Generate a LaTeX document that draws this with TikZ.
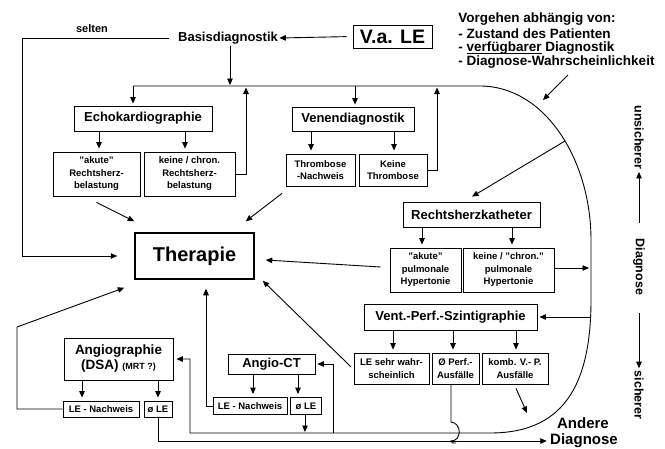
\documentclass[tikz,border=0pt]{standalone}
\usepackage{fontspec}
\setmainfont{Liberation Sans}
\usetikzlibrary{arrows.meta,calc}
\newcommand\myul[1]{\setbox0\hbox{#1}\rlap{\rule[-2.3pt]{\wd0}{0.9pt}}\box0\relax}
\begin{document}
\begin{tikzpicture}[x=1pt,y=-1pt,
  line width=0.9pt,
  arr/.style={-{Triangle[length=6.5pt,width=5.5pt]}},
  bx/.style n args={2}{draw, line width=0.8pt, fill=white, align=center, inner sep=0pt, minimum width=#1pt, minimum height=#2pt},
  ttl/.style={font=\fontsize{13}{15}\selectfont\bfseries},
  sml/.style={font=\fontsize{9.5}{12.5}\selectfont\bfseries},
  lbl/.style={inner sep=1pt},
  vg/.style={lbl, anchor=west, font=\fontsize{13.5}{15}\selectfont\bfseries},
]
\useasboundingbox (0,0) rectangle (665,448);

% ---------- nodes ----------
\node[bx={79}{23}, font=\fontsize{19.5}{22}\selectfont\bfseries] (vale) at (392.5,36.5) {V.a. LE};
\node[lbl, ttl] (basis) at (228,38) {Basisdiagnostik};
\node[lbl, font=\fontsize{11}{13}\selectfont\bfseries] (selten) at (92,29) {selten};
\node[vg] (vg1) at (457,19) {Vorgehen abhängig von:};
\node[vg] (vg2) at (457,33.5) {- Zustand des Patienten};
\node[vg] (vg3) at (457,48) {- \myul{verfügbarer} Diagnostik};
\node[vg] (vg4) at (457,62.5) {- Diagnose-Wahrscheinlichkeit};

\node[bx={138}{25}, ttl] (echo) at (143,118.5) {Echokardiographie};
\node[bx={87}{44}, sml] (ak1) at (96.5,174) {"akute"\\Rechtsherz-\\belastung};
\node[bx={91}{44}, sml] (kc1) at (189.5,174) {keine / chron.\\Rechtsherz-\\belastung};

\node[bx={122}{24}, ttl] (venen) at (353,119) {Venendiagnostik};
\node[bx={69}{32}, sml] (thn) at (320.5,170) {Thrombose\\-Nachweis};
\node[bx={68}{32}, sml] (kth) at (393,170) {Keine\\Thrombose};

\node[bx={119}{46}, line width=1.5pt, font=\fontsize{20}{24}\selectfont\bfseries] (therapie) at (194.5,256) {Therapie};

\node[bx={137}{25}, ttl] (rhk) at (471.5,214.5) {Rechtsherzkatheter};
\node[bx={71}{44}, sml] (aph) at (425.5,270) {"akute"\\pulmonale\\Hypertonie};
\node[bx={91}{44}, sml] (kph) at (508.5,270) {keine / "chron."\\pulmonale\\Hypertonie};

\node[bx={173}{26}, ttl] (vps) at (450.5,317) {Vent.-Perf.-Szintigraphie};
\node[bx={75}{31}, sml] (lesw) at (391.5,368.5) {LE sehr wahr-\\scheinlich};
\node[bx={47}{31}, sml] (perf) at (455.5,368.5) {Ø Perf.-\\Ausfälle};
\node[bx={66}{31}, sml] (komb) at (515,368.5) {komb. V.- P.\\Ausfälle};

\node[bx={87}{20}, ttl] (angioct) at (271.5,364) {Angio-CT};
\node[bx={74}{17}, sml] (ctle) at (250,406) {LE - Nachweis};
\node[bx={31}{17}, sml] (ctnole) at (306,406) {ø LE};

\node[bx={109}{42}, font=\fontsize{13.5}{15}\selectfont\bfseries] (angio) at (118.5,359) {Angiographie\\(DSA) {\fontsize{9}{10}\selectfont (MRT ?)}};
\node[bx={76}{16}, sml] (anle) at (101,409) {LE - Nachweis};
\node[bx={28}{16}, sml] (annole) at (158,409) {ø LE};

\node[lbl, font=\fontsize{15}{17}\selectfont\bfseries] (andere1) at (583,423) {Andere};
\node[lbl, font=\fontsize{15}{17}\selectfont\bfseries] (andere2) at (584,441) {Diagnose};

\node[lbl, rotate=-90, font=\fontsize{12.5}{14}\selectfont\bfseries] (unsich) at (639,137.5) {unsicherer};
\node[lbl, rotate=-90, font=\fontsize{12.5}{14}\selectfont\bfseries] (diag) at (639,267) {Diagnose};
\node[lbl, rotate=-90, font=\fontsize{12.5}{14}\selectfont\bfseries] (sich) at (639,395) {sicherer};

% ---------- coordinates ----------
\coordinate (top) at (133,86);
\coordinate (cA) at (480,86);
\coordinate (cB) at (591,240);
\coordinate (cC) at (591,300);
\coordinate (cD) at (490,433);
\coordinate (cR) at (565,141);
\coordinate (bL) at (190,433);
\coordinate (ctR) at (333,433);

% ---------- connectors ----------
\draw[arr, shorten <=6pt] (vale.west) -- (basis.east);
\draw[arr, shorten <=8pt, shorten >=17pt] (basis.west) -- (22,38) |- (therapie.west);
\draw[arr] (basis.south -| 230,0) -- (230,85);

% big loop
\draw[arr, shorten >=3pt] (top) -- (cA) .. controls (545,86) and (591,160) .. (cB) -- (cC)
   .. controls (591,390) and (560,433) .. (cD) -- (bL) |- (angio.east);
\draw[arr, shorten >=2pt] (top) -- (top |- echo.north);
\draw[arr, shorten >=2pt] (355,86) -- (355,0 |- venen.north);
\draw[arr] (kc1.east) -| (246,87.5);
\draw[arr] (kth.east) -| (437,87.5);

% echo / venen children
\draw[arr, shorten >=3pt] ($(echo.south)+(-44,0)$) -- ($(ak1.north)+(2.5,0)$);
\draw[arr, shorten >=3pt] ($(echo.south)+(42,0)$) -- ($(kc1.north)+(-4.5,0)$);
\draw[arr, shorten >=3pt] ($(venen.south)+(-42,0)$) -- ($(thn.north)+(-9.5,0)$);
\draw[arr, shorten >=3pt] ($(venen.south)+(41,0)$) -- ($(kth.north)+(1,0)$);
\draw[arr] ($(ak1.south)+(0,6)$) -- ($(therapie.north west)+(0,-11)$);
\draw[arr] ($(thn.south)+(-38.5,7)$) -- ($(therapie.north east)+(-9,-11)$);

% rechtsherzkatheter
\draw[arr] (cR) -- ($(rhk.north)+(0.5,-5)$);
\draw[arr, shorten >=3pt] ($(rhk.south)+(-49.5,0)$) -- ($(aph.north)+(-3.5,0)$);
\draw[arr, shorten >=3pt] ($(rhk.south)+(40.5,0)$) -- ($(kph.north)+(3.5,0)$);
\draw[arr] ($(aph.west)+(-9,-3)$) -- ($(therapie.east)+(11,4)$);
\draw[arr] ($(kph.east)+(0,-2)$) -- (589,268);

% szintigraphie
\draw[arr, shorten >=2pt] (591,317) -- (vps.east);
\draw[arr, shorten >=3pt] ($(vps.south)+(-57.5,0)$) -- ($(lesw.north)+(1.5,0)$);
\draw[arr, shorten >=3pt] ($(vps.south)+(2.5,0)$) -- ($(perf.north)+(-2.5,0)$);
\draw[arr, shorten >=3pt] ($(vps.south)+(65.5,0)$) -- ($(komb.north)+(1,0)$);
\draw[arr] ($(lesw.west)+(-3,-2)$) -- ($(therapie.south east)+(8,1)$);
\draw[arr] ($(komb.south)+(1,4)$) -- (527,413);
\draw ($(perf.south)+(-4.5,0)$) -- (451,422) .. controls (462,423) and (462,441) .. (451,441)
   .. controls (452,443) .. (456,443);

% angio-ct
\draw[arr, shorten >=2pt] (ctR) |- (angioct.east);
\draw[arr, shorten >=3pt] ($(angioct.south)+(-18.5,0)$) -- ($(ctle.north)+(3,0)$);
\draw[arr, shorten >=3pt] ($(angioct.south)+(26.5,0)$) -- ($(ctnole.north)+(-8,0)$);
\draw[arr] (ctle.west) -| ($(therapie.south)+(11.5,9)$);
\draw[arr] ($(ctnole.south)+(-1,0)$) -- (305,432);

% angiographie
\draw[arr, shorten >=3pt] ($(angio.south)+(-36.5,0)$) -- ($(anle.north)+(-19,0)$);
\draw[arr, shorten >=3pt] ($(angio.south)+(39.5,0)$) -- (annole.north);
\draw[arr] (anle.west) -- (17,409) -- (17,327) -- ($(therapie.south west)+(-10,8)$);
\draw[arr, shorten >=2pt] (annole.south) |- (andere2.west);

% vorgehen arrow
\draw[arr] (568,75) -- (543,100);

% right scale
\draw[arr, shorten >=1pt] (639,223) -- (unsich.east);
\draw[arr, shorten >=1pt] (639,313) -- (sich.west);
\end{tikzpicture}
\end{document}
